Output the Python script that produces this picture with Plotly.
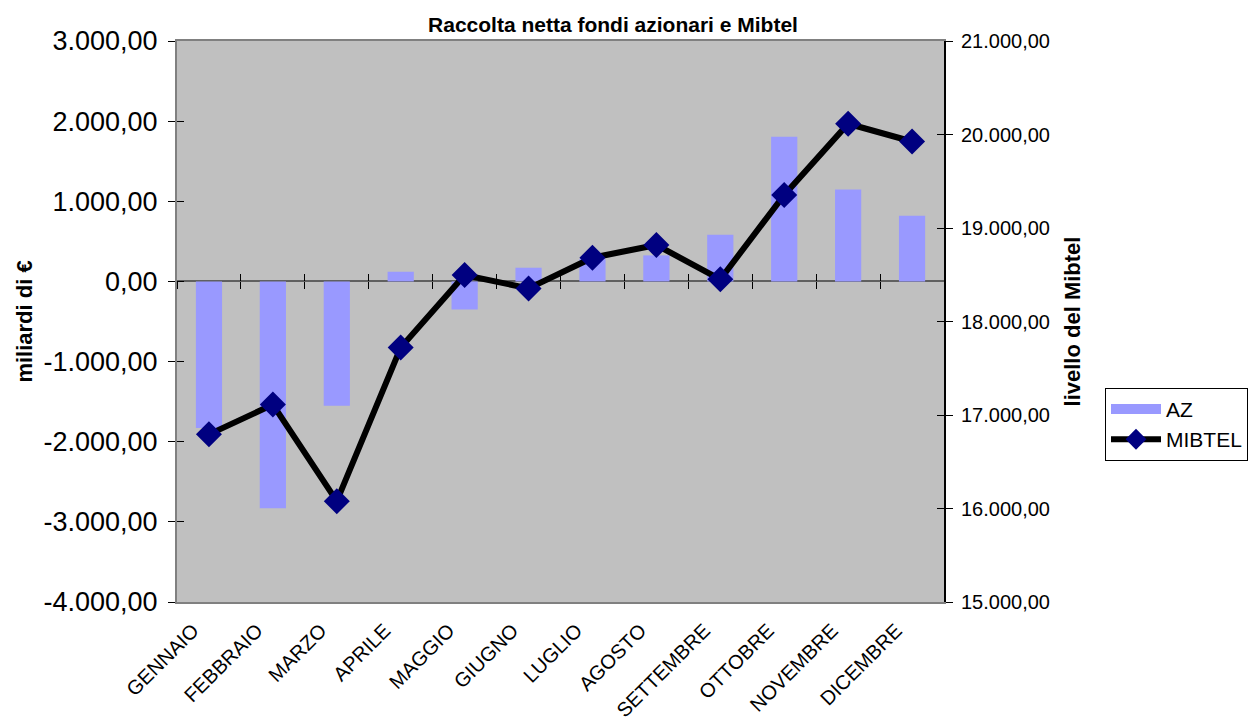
import plotly.graph_objects as go

months = ["GENNAIO", "FEBBRAIO", "MARZO", "APRILE", "MAGGIO", "GIUGNO",
          "LUGLIO", "AGOSTO", "SETTEMBRE", "OTTOBRE", "NOVEMBRE", "DICEMBRE"]
az = [-1830, -2830, -1550, 121, -350, 171, 280, 325, 583, 1806, 1146, 821]
mibtel = [16793, 17111, 16078, 17722, 18497, 18354, 18682, 18818, 18451, 19354, 20115, 19925]

left_ticks = [-4000, -3000, -2000, -1000, 0, 1000, 2000, 3000]
right_ticks = [15000, 16000, 17000, 18000, 19000, 20000, 21000]


def it_fmt(v):
    s = f"{abs(v):,.2f}".replace(",", "X").replace(".", ",").replace("X", ".")
    return ("-" if v < 0 else "") + s


left_range = [left_ticks[0], left_ticks[-1]]
right_range = [right_ticks[0], right_ticks[-1]]

FONT = "Liberation Sans, Arial, sans-serif"
BAR_COLOR = "#9999FF"

fig = go.Figure()
fig.add_trace(go.Bar(x=months, y=az, name="AZ", marker=dict(color=BAR_COLOR, line=dict(width=0)),
                     yaxis="y", showlegend=False))
# legend swatch for AZ (wide rectangle as in the original)
fig.add_trace(go.Scatter(x=[None], y=[None], name="AZ", mode="lines",
                         line=dict(color=BAR_COLOR, width=14), hoverinfo="skip"))
fig.add_trace(go.Scatter(x=months, y=mibtel, name="MIBTEL", mode="lines+markers",
                         line=dict(color="black", width=6),
                         marker=dict(symbol="diamond", size=20, color="#000080",
                                     line=dict(width=0)),
                         yaxis="y2"))

n = len(months)
boundaries = [i - 0.5 for i in range(n + 1)]
zero_pos = (0 - left_range[0]) / (left_range[1] - left_range[0])

# empty helper traces so the tick-only overlay axes are drawn
for xa, ya in [("x2", "y"), ("x3", "y"), ("x", "y3"), ("x", "y4")]:
    fig.add_trace(go.Scatter(x=[], y=[], xaxis=xa, yaxis=ya, showlegend=False,
                             hoverinfo="skip", mode="lines"))

tick_x = dict(overlaying="x", anchor="free", position=zero_pos, type="linear",
              range=[-0.5, n - 0.5], tickvals=boundaries, ticklen=7, tickwidth=1,
              tickcolor="black", showticklabels=False, showline=False, showgrid=False,
              zeroline=False, automargin=False)

fig.update_layout(
    width=1249, height=726,
    margin=dict(l=177, r=305, t=41, b=124, autoexpand=False),
    paper_bgcolor="white",
    plot_bgcolor="#C0C0C0",
    font=dict(family=FONT, color="black"),
    bargap=0.59,
    showlegend=True,
    title=dict(text="Raccolta netta fondi azionari e Mibtel",
               font=dict(size=21, family=FONT, weight="bold"),
               x=613 / 1249, xanchor="center", xref="container",
               y=1 - 25 / 726, yanchor="middle", yref="container"),
    xaxis=dict(type="category", range=[-0.5, n - 0.5], showline=True, linecolor="#808080",
               linewidth=2, mirror=True, ticks="", tickangle=-45,
               tickfont=dict(size=20), showgrid=False, ticklabelstandoff=7,
               ticklabelshift=-16, automargin=False),
    xaxis2=dict(ticks="outside", **tick_x),
    xaxis3=dict(ticks="inside", **tick_x),
    yaxis=dict(range=left_range, tickvals=left_ticks, ticktext=[it_fmt(v) for v in left_ticks],
               showgrid=False, automargin=False,
               zeroline=True, zerolinecolor="#606060", zerolinewidth=2,
               showline=True, linecolor="#808080", linewidth=2,
               ticks="outside", ticklen=7, tickcolor="black",
               tickfont=dict(size=27), ticklabelstandoff=5,
               title=dict(text="miliardi di €", font=dict(size=22, weight="bold"), standoff=5)),
    yaxis3=dict(overlaying="y", range=left_range, tickvals=left_ticks, showgrid=False,
                zeroline=False, automargin=False,
                showline=False, ticks="inside", ticklen=7, tickcolor="black",
                showticklabels=False),
    yaxis2=dict(overlaying="y", side="right", range=right_range, tickvals=right_ticks,
                ticktext=[it_fmt(v) for v in right_ticks], automargin=False,
                showgrid=False, zeroline=False,
                showline=True, linecolor="black", linewidth=2,
                ticks="outside", ticklen=7, tickcolor="black",
                tickfont=dict(size=20), ticklabelstandoff=4,
                title=dict(text="livello del Mibtel", font=dict(size=22, weight="bold"), standoff=16)),
    yaxis4=dict(overlaying="y", side="right", range=right_range, tickvals=right_ticks,
                showgrid=False, automargin=False,
                zeroline=False, showline=False, ticks="inside", ticklen=7, tickcolor="black",
                showticklabels=False),
    legend=dict(x=(1105 - 177) / 767, y=(602 - 388) / 560.5, xanchor="left", yanchor="top",
                bgcolor="white", bordercolor="black", borderwidth=1,
                font=dict(size=21), itemwidth=50, tracegroupgap=0),
)

fig.write_html("out.html")
